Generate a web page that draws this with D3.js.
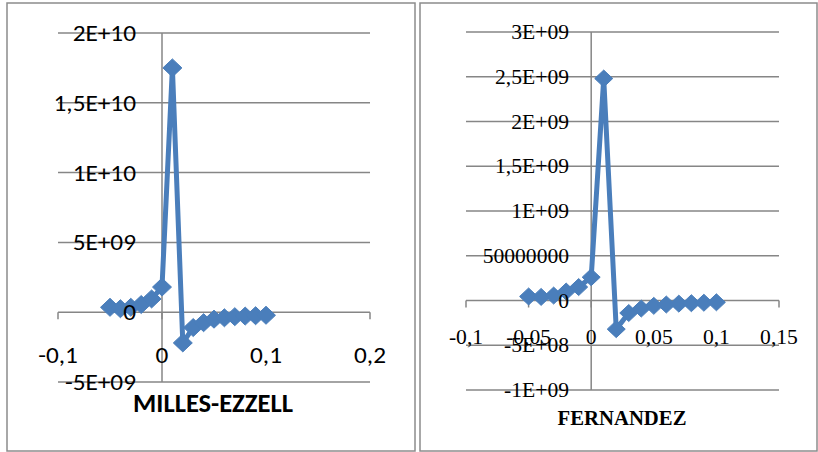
<!DOCTYPE html>
<html>
<head>
<meta charset="utf-8">
<script src="https://cdn.jsdelivr.net/npm/d3@7"></script>
<style>
html,body{margin:0;padding:0;background:#fff;}
svg{display:block;}
</style>
</head>
<body>
<svg id="chart" width="818" height="452"></svg>
<script>
// ---------- data ----------
const xValues = [-0.05,-0.04,-0.03,-0.02,-0.01,0,0.01,0.02,0.03,0.04,0.05,0.06,0.07,0.08,0.09,0.1];
const millesValues = [0.35e9,0.25e9,0.35e9,0.55e9,0.95e9,1.8e9,17.5e9,-2.2e9,-1.1e9,-0.75e9,-0.5e9,-0.4e9,-0.32e9,-0.28e9,-0.25e9,-0.22e9];
const fernandezValues = [0.045e9,0.04e9,0.055e9,0.1e9,0.15e9,0.26e9,2.48e9,-0.32e9,-0.14e9,-0.09e9,-0.06e9,-0.045e9,-0.035e9,-0.03e9,-0.025e9,-0.02e9];

const millesYTicks = [-5e9,0,5e9,1e10,1.5e10,2e10];
const millesYLabels = ["-5E+09","0","5E+09","1E+10","1,5E+10","2E+10"];
const millesXTicks = [-0.1,0,0.1,0.2];
const millesXLabels = ["-0,1","0","0,1","0,2"];

const fernYTicks = [-1e9,-5e8,0,5e8,1e9,1.5e9,2e9,2.5e9,3e9];
const fernYLabels = ["-1E+09","-5E+08","0","50000000","1E+09","1,5E+09","2E+09","2,5E+09","3E+09"];
const fernXTicks = [-0.1,-0.05,0,0.05,0.1,0.15];
const fernXLabels = ["-0,1","-0,05","0","0,05","0,1","0,15"];

const svg = d3.select("#chart");
const gridColor = "#868686";
const lineColor = "#4A7EBB";

function drawChart(cfg){
  const g = svg.append("g");
  // frame
  g.append("rect").attr("x",cfg.frame[0]).attr("y",cfg.frame[1])
    .attr("width",cfg.frame[2]-cfg.frame[0]).attr("height",cfg.frame[3]-cfg.frame[1])
    .attr("fill","#fff").attr("stroke","#8c8c8c").attr("stroke-width",1.5);

  const x = d3.scaleLinear().domain(cfg.xDomain).range([cfg.plot[0],cfg.plot[2]]);
  const y = d3.scaleLinear().domain(cfg.yDomain).range([cfg.plot[3],cfg.plot[1]]);

  // horizontal gridlines
  g.selectAll("line.grid").data(cfg.yTicks).join("line")
    .attr("x1",x(cfg.xDomain[0])).attr("x2",x(cfg.xDomain[1]))
    .attr("y1",d=>y(d)).attr("y2",d=>y(d))
    .attr("stroke",gridColor).attr("stroke-width",1.5);
  // x tick marks on the zero line
  g.selectAll("line.xt").data(cfg.xTicks).join("line")
    .attr("x1",d=>x(d)).attr("x2",d=>x(d))
    .attr("y1",y(0)).attr("y2",y(0)+7)
    .attr("stroke",gridColor).attr("stroke-width",1.5);
  // vertical axis
  g.append("line").attr("x1",x(0)).attr("x2",x(0))
    .attr("y1",y(cfg.yDomain[0])).attr("y2",y(cfg.yDomain[1]))
    .attr("stroke",gridColor).attr("stroke-width",1.5);

  // series
  const pts = xValues.map((v,i)=>[v,cfg.values[i]]);
  g.append("path").datum(pts)
    .attr("d",d3.line().x(d=>x(d[0])).y(d=>y(d[1])))
    .attr("fill","none").attr("stroke",lineColor).attr("stroke-width",5)
    .attr("stroke-linejoin","round");
  const sw = cfg.marker[0], sh = cfg.marker[1];
  g.selectAll("path.mk").data(pts).join("path")
    .attr("d",`M0,${-sh}L${sw},0L0,${sh}L${-sw},0Z`)
    .attr("transform",d=>`translate(${x(d[0])},${y(d[1])})`)
    .attr("fill",lineColor).attr("stroke",lineColor).attr("stroke-width",1);

  // y labels
  g.selectAll("text.yl").data(cfg.yTicks).join("text")
    .attr("transform",d=>`translate(${cfg.yLabelX},${y(d)}) scale(${cfg.sx},1)`)
    .attr("text-anchor","end").attr("dy","0.35em")
    .style("font-family",cfg.font).style("font-size",cfg.fs+"px").attr("fill","#000")
    .text((d,i)=>cfg.yLabels[i]);
  // x labels
  g.selectAll("text.xl").data(cfg.xTicks).join("text")
    .attr("transform",d=>`translate(${x(d)},${cfg.xLabelY}) scale(${cfg.sx},1)`)
    .attr("text-anchor","middle").attr("dy","0.35em")
    .style("font-family",cfg.font).style("font-size",cfg.fs+"px").attr("fill","#000")
    .text((d,i)=>cfg.xLabels[i]);
  // title, stretched to the width it has in the reference
  const t = g.append("text")
    .attr("text-anchor","middle")
    .style("font-family",cfg.font).style("font-size",cfg.titleFs+"px").style("font-weight","bold")
    .attr("fill","#000").text(cfg.title);
  const tw = t.node().getBBox().width || cfg.titleW;
  t.attr("transform",`translate(${cfg.titlePos[0]},${cfg.titlePos[1]}) scale(${cfg.titleW/tw},1)`);
}

drawChart({
  frame:[7,3,415,451], plot:[58,33,370,382],
  xDomain:[-0.1,0.2], yDomain:[-5e9,2e10],
  xTicks:millesXTicks, xLabels:millesXLabels,
  yTicks:millesYTicks, yLabels:millesYLabels,
  values:millesValues, marker:[9.5,9],
  font:"Carlito, Calibri, Lato, sans-serif", fs:23, sx:1.1,
  yLabelX:136, xLabelY:355,
  title:"MILLES-EZZELL", titleFs:26, titleW:160, titlePos:[213,412]
});

drawChart({
  frame:[420,3,817,451], plot:[466,32,779,390],
  xDomain:[-0.1,0.15], yDomain:[-1e9,3e9],
  xTicks:fernXTicks, xLabels:fernXLabels,
  yTicks:fernYTicks, yLabels:fernYLabels,
  values:fernandezValues, marker:[9,8.5],
  font:"'Liberation Serif', 'Times New Roman', serif", fs:20, sx:1.08,
  yLabelX:569, xLabelY:337,
  title:"FERNANDEZ", titleFs:20, titleW:129, titlePos:[622,425]
});
</script>
</body>
</html>
